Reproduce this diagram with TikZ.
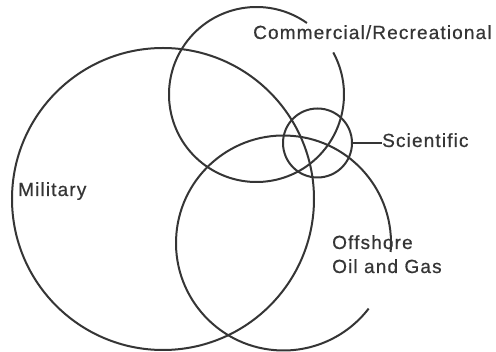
\documentclass[tikz,border=0pt]{standalone}
\usepackage{fontspec}
\newfontfamily\lblfont[LetterSpace=6,FakeBold=0.6]{Liberation Sans}
\definecolor{ink}{HTML}{353535}
\begin{document}
\begin{tikzpicture}[x=1pt,y=-1pt,
  ring/.style={draw=ink,line width=2pt},
  lbl/.style={font=\lblfont\fontsize{19}{24}\selectfont,text=ink,inner sep=0pt,anchor=base west,align=left}]
\useasboundingbox (0,0) rectangle (496,352);
\fill[white] (0,0) rectangle (496,352);
% centres
\coordinate (mil) at (163,199);
\coordinate (com) at (256.5,94.5);
\coordinate (off) at (283.5,243);
% Military
\draw[ring] (mil) circle[radius=151pt];
% Commercial/Recreational (open arc)
\draw[ring] ([shift={(54.8:87.5pt)}]com) arc[start angle=54.8,end angle=388.7,radius=87.5pt];
% Offshore (open arc)
\draw[ring] ([shift={(-4.8:107.5pt)}]off) arc[start angle=-4.8,end angle=322.4,radius=107.5pt];
% Scientific
\node[ring,circle,minimum size=69pt,inner sep=0pt] (sci) at (317.5,143) {};
% labels
\node[lbl] (lcom) at (253,39) {Commercial/Recreational};
\node[lbl] (lmil) at (18,196) {Military};
\node[lbl] (lsci) at (382,147) {Scientific};
\node[lbl] (loff) at (332,273) {Offshore\\Oil and Gas};
\draw[ring] (sci.east) -- (sci.east -| lsci.west);
\end{tikzpicture}
\end{document}
